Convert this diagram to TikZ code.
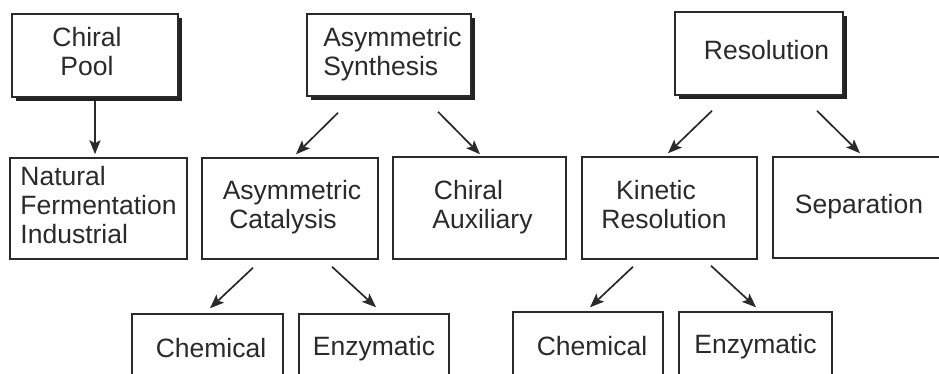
\documentclass[tikz,border=0pt]{standalone}
\usepackage{fontspec}
\setmainfont{Liberation Sans}
\usetikzlibrary{shadows,arrows.meta,calc}
\definecolor{ink}{HTML}{2A2A2A}
\begin{document}
\begin{tikzpicture}[x=1pt,y=-1pt,
  box/.style={draw=ink, line width=1.5pt, fill=white, text=ink, inner sep=0pt, align=center,
    font=\fontsize{26.5}{29}\selectfont},
  topbox/.style={box, drop shadow={shadow xshift=4pt, shadow yshift=-4pt, fill=ink!80!black, opacity=1}},
  arr/.style={draw=ink, line width=1.7pt, -{Stealth[length=14pt,width=11pt,inset=3pt]}}]
\clip (0,0) rectangle (939,374);
\fill[white] (0,0) rectangle (939,374);
% top row
\node[topbox, minimum width=166pt, minimum height=83pt] (pool) at (95,55.5)
  {\hspace*{-16pt}Chiral\strut\\\hspace*{-16pt}Pool\strut};
\node[topbox, align=left, minimum width=164pt, minimum height=82pt] (synth) at (389,55)
  {\hspace*{7pt}Asymmetric\strut\\\hspace*{7pt}Synthesis\strut};
\node[topbox, minimum width=168pt, minimum height=83pt] (resol) at (759,53.5)
  {\hspace*{15pt}Resolution\strut};
% middle row
\node[box, align=left, minimum width=177pt, minimum height=101pt] (natural) at (98.5,208.5)
  {Natural\strut\\Fermentation\strut\\Industrial\strut};
\node[box, minimum width=176pt, minimum height=101pt] (catal) at (290,208.5)
  {\hspace*{4pt}Asymmetric\strut\\\hspace*{-14pt}Catalysis\strut};
\node[box, minimum width=173pt, minimum height=102pt] (aux) at (479.5,208)
  {\hspace*{-22pt}Chiral\strut\\\hspace*{6pt}Auxiliary\strut};
\node[box, minimum width=175pt, minimum height=102pt] (kinetic) at (669.5,208)
  {\hspace*{-27pt}Kinetic\strut\\\hspace*{-11pt}Resolution\strut};
\node[box, minimum width=172pt, minimum height=101pt] (separ) at (859,207.5)
  {Separation\strut};
% bottom row
\node[box, minimum width=151pt, minimum height=74.4pt] (chem1) at (207.5,351.2)
  {\hspace*{7pt}Chemical\strut};
\node[box, minimum width=150pt, minimum height=70.4pt] (enz1) at (374,349.2)
  {Enzymatic\strut};
\node[box, minimum width=150pt, minimum height=74.4pt] (chem2) at (588,349.2)
  {\hspace*{8pt}Chemical\strut};
\node[box, minimum width=153pt, minimum height=70.4pt] (enz2) at (755.5,347.2)
  {Enzymatic\strut};
% connectors
\draw[arr, shorten <=3pt, shorten >=3pt] (pool.south) -- (pool.south |- natural.north);
\draw[arr] ($(synth.south)+(-51,16)$) -- ($(catal.north)+(6,-3)$);
\draw[arr] ($(synth.south)+(49,15)$) -- ($(aux.north)+(0.5,-2)$);
\draw[arr] ($(resol.south)+(-47,15)$) -- ($(kinetic.north)+(-1.5,-3)$);
\draw[arr] ($(resol.south)+(58,15)$) -- ($(separ.north)+(1,-3)$);
\draw[arr] ($(catal.south)+(-37,8)$) -- ($(chem1.north)+(2.5,-5)$);
\draw[arr] ($(catal.south)+(42,7)$) -- ($(enz1.north)+(2,-6)$);
\draw[arr] ($(kinetic.south)+(-36.5,7)$) -- ($(chem2.north)+(2,-4)$);
\draw[arr] ($(kinetic.south)+(41.5,6)$) -- ($(enz2.north)+(0.5,-4)$);
\end{tikzpicture}
\end{document}
